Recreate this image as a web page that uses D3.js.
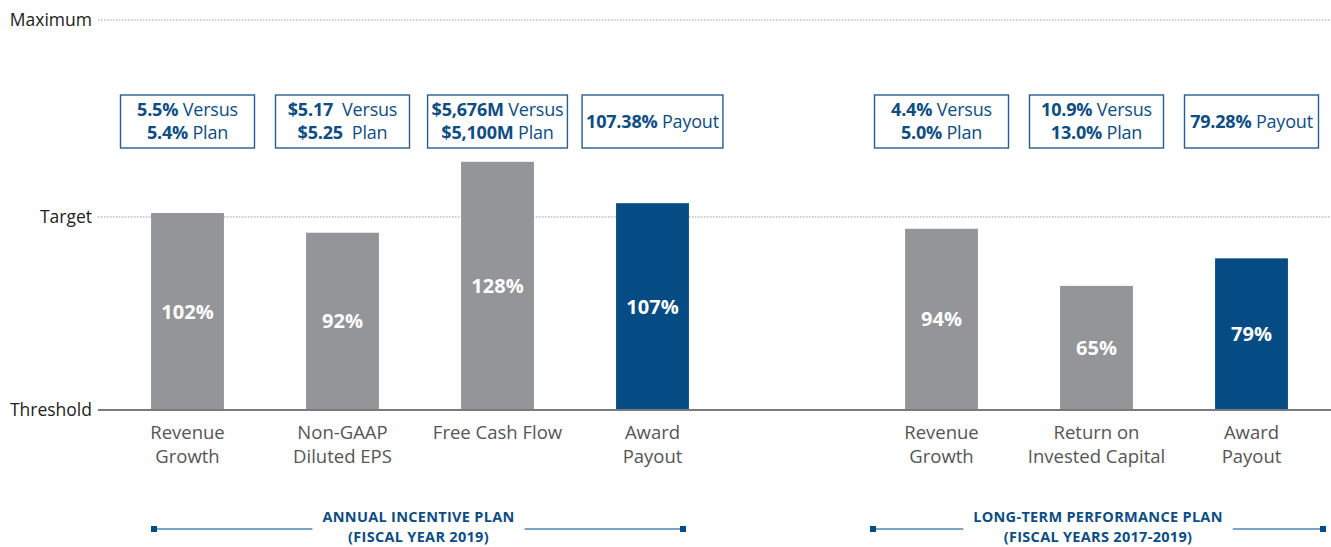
<!DOCTYPE html>
<html><head><meta charset="utf-8">
<script src="https://cdn.jsdelivr.net/npm/d3@7"></script>
<style>body{margin:0;background:#fff}svg{display:block}text{font-family:"Open Sans",sans-serif}</style>
</head><body><svg id="c" width="1331" height="547"></svg>
<script>
// ---- data ----
const levelLabels = ["Threshold", "Target", "Maximum"];
const levelValues = [2, 100, 200];

const aipCategories = [["Revenue", "Growth"], ["Non-GAAP", "Diluted EPS"], ["Free Cash Flow"], ["Award", "Payout"]];
const aipValues = [102, 92, 128, 107];
const aipIsPayout = [false, false, false, true];
const aipBoxes = [
  [[["5.5%", true], [" Versus", false]], [["5.4%", true], [" Plan", false]]],
  [[["$5.17", true], ["  Versus", false]], [["$5.25", true], ["  Plan", false]]],
  [[["$5,676M", true], [" Versus", false]], [["$5,100M", true], [" Plan", false]]],
  [[["107.38%", true], [" Payout", false]]]
];
const aipTitle = ["ANNUAL INCENTIVE PLAN", "(FISCAL YEAR 2019)"];

const ltpCategories = [["Revenue", "Growth"], ["Return on", "Invested Capital"], ["Award", "Payout"]];
const ltpValues = [94, 65, 79];
const ltpIsPayout = [false, false, true];
const ltpBoxes = [
  [[["4.4%", true], [" Versus", false]], [["5.0%", true], [" Plan", false]]],
  [[["10.9%", true], [" Versus", false]], [["13.0%", true], [" Plan", false]]],
  [[["79.28%", true], [" Payout", false]]]
];
const ltpTitle = ["LONG-TERM PERFORMANCE PLAN", "(FISCAL YEARS 2017-2019)"];

// ---- drawing ----
const svg = d3.select("#c");
const GRAY = "#939598", BLUE = "#064c84", TXTBLUE = "#0d4d84";
const y = d3.scaleLinear().domain([levelValues[0], levelValues[2]]).range([410, 20]);

// reference lines
const axisG = svg.append("g");
levelLabels.forEach((lab, i) => {
  const yy = y(levelValues[i]);
  axisG.append("text").attr("x", 92).attr("y", yy).attr("dy", "0.35em")
    .attr("text-anchor", "end").attr("font-size", 17.5).attr("fill", "#222").text(lab);
  axisG.append("line").attr("x1", 98).attr("x2", 1331).attr("y1", yy).attr("y2", yy)
    .attr("stroke", i === 0 ? "#7a7a7a" : "#9a9a9a")
    .attr("stroke-width", i === 0 ? 2 : 1)
    .attr("stroke-dasharray", i === 0 ? null : "1.5,1.5");
});

function drawGroup(cats, vals, payout, boxes, title, x0, x1, lineSpan) {
  const x = d3.scaleBand().domain(d3.range(cats.length)).range([x0, x1]).paddingInner(0.53).paddingOuter(0.265);
  const g = svg.append("g");
  const bw = x.bandwidth();
  g.selectAll("rect.bar").data(vals).join("rect").attr("class", "bar")
    .attr("x", (d, i) => x(i)).attr("width", bw)
    .attr("y", d => y(d)).attr("height", d => y(levelValues[0]) - y(d) - 1)
    .attr("fill", (d, i) => payout[i] ? BLUE : GRAY);
  g.selectAll("text.val").data(vals).join("text").attr("class", "val")
    .attr("x", (d, i) => x(i) + bw / 2).attr("y", d => (y(d) + y(levelValues[0])) / 2)
    .attr("dy", "0.35em").attr("text-anchor", "middle").attr("fill", "#fff")
    .attr("font-size", 20).attr("font-weight", 700).text(d => d + "%");
  // category labels
  cats.forEach((lines, i) => {
    const t = g.append("text").attr("x", x(i) + bw / 2).attr("y", 439).attr("text-anchor", "middle")
      .attr("font-size", 18.5).attr("fill", "#555");
    lines.forEach((l, j) => t.append("tspan").attr("x", x(i) + bw / 2).attr("dy", j ? 24 : 0).text(l));
  });
  // boxes
  boxes.forEach((lines, i) => {
    const cx = x(i) + bw / 2;
    const bg = g.append("g");
    const rect = bg.append("rect");
    let maxW = 0;
    lines.forEach((parts, j) => {
      const yy = lines.length === 1 ? 121.5 : 110 + j * 23;
      const t = bg.append("text").attr("x", cx).attr("y", yy).attr("dy", "0.35em")
        .attr("text-anchor", "middle").attr("font-size", 18).attr("fill", TXTBLUE)
        .attr("letter-spacing", -0.2)
        .attr("xml:space", "preserve").style("white-space", "pre");
      parts.forEach(p => t.append("tspan").attr("font-weight", p[1] ? 700 : 400).text(p[0]));
      maxW = Math.max(maxW, t.node().getBBox().width);
    });
    const w = Math.max(134, maxW + 8);
    rect.attr("x", cx - w / 2).attr("y", 95).attr("width", w).attr("height", 53)
      .attr("fill", "#fff").attr("stroke", "#2a5d8f").attr("stroke-width", 1.4);
  });
  // group title
  const tcx = (lineSpan[0] + lineSpan[1]) / 2;
  let tw = 0;
  title.forEach((l, j) => {
    const tt = g.append("text").attr("text-anchor", "middle").attr("font-size", 14.5)
      .attr("font-weight", 700).attr("fill", TXTBLUE).attr("letter-spacing", 0.3)
      .attr("x", tcx).attr("y", 522 + j * 20).text(l);
    tw = Math.max(tw, tt.node().getBBox().width);
  });
  const gap = 10;
  [[lineSpan[0], tcx - tw / 2 - gap], [tcx + tw / 2 + gap, lineSpan[1]]].forEach(s => {
    g.append("line").attr("x1", s[0]).attr("x2", s[1]).attr("y1", 529).attr("y2", 529)
      .attr("stroke", "#4f87b3").attr("stroke-width", 1.6);
  });
  [lineSpan[0], lineSpan[1]].forEach(px => {
    g.append("rect").attr("x", px - 3).attr("y", 526).attr("width", 6).attr("height", 6).attr("fill", BLUE);
  });
}

drawGroup(aipCategories, aipValues, aipIsPayout, aipBoxes, aipTitle, 110, 730, [154, 683]);
drawGroup(ltpCategories, ltpValues, ltpIsPayout, ltpBoxes, ltpTitle, 864, 1329, [873, 1323]);
</script></body></html>
